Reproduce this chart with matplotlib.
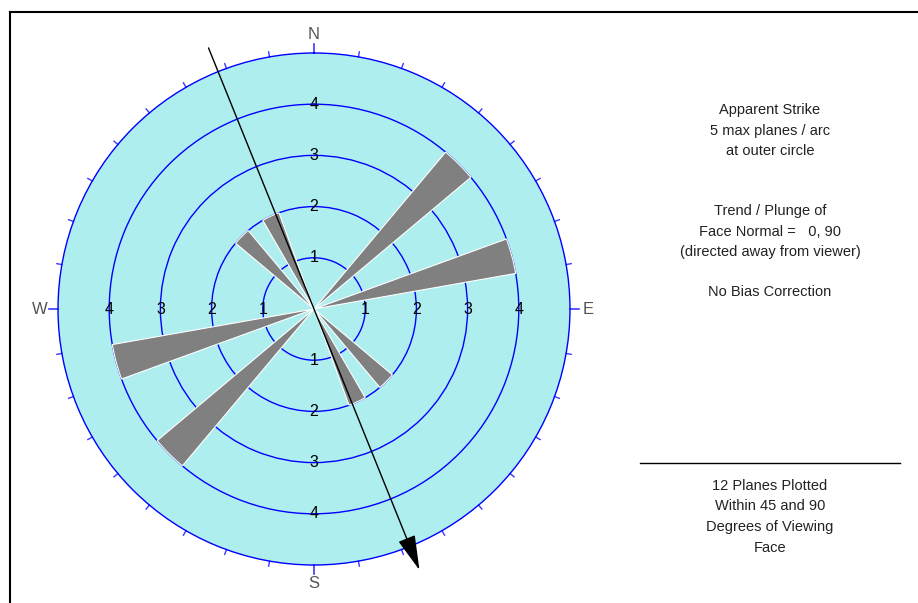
import numpy as np
import matplotlib
matplotlib.use("Agg")
import matplotlib.pyplot as plt
from matplotlib.lines import Line2D

plt.rcParams['font.family'] = ['Liberation Sans', 'DejaVu Sans']

# ---- data ----
bin_start_deg = [40, 70, 130, 150, 220, 250, 310, 330]   # apparent strike bins (10 deg wide)
bin_counts = [4, 4, 2, 2, 4, 4, 2, 2]                      # planes per bin (bidirectional)
bin_width_deg = 10
ring_values = [1, 2, 3, 4]
max_planes = 5
cardinal_deg = [0, 90, 180, 270]
cardinal_labels = ['N', 'E', 'S', 'W']
tick_step_deg = 10
arrow_trend_deg = 158
arrow_length = 5.5

info_lines_top = ["Apparent Strike", "5 max planes / arc", "at outer circle"]
info_lines_mid = ["Trend / Plunge of", "Face Normal =   0, 90", "(directed away from viewer)"]
info_line_bias = "No Bias Correction"
info_lines_bottom = ["12 Planes Plotted", "Within 45 and 90", "Degrees of Viewing", "Face"]

W, H = 918, 603
fig = plt.figure(figsize=(W / 100, H / 100), dpi=100)
fig.patch.set_facecolor('white')

cx, cy, R = 314, 309, 256
ax = fig.add_axes([(cx - R) / W, (H - cy - R) / H, 2 * R / W, 2 * R / H], projection='polar')
ax.set_theta_zero_location('N')
ax.set_theta_direction(-1)
ax.set_ylim(0, max_planes)
ax.set_facecolor('#AFEEEE')
ax.spines['polar'].set_color('#0000FF')
ax.spines['polar'].set_linewidth(1.0)
ax.set_axisbelow(True)

# rings
ax.set_yticks(ring_values)
ax.set_yticklabels([])
ax.yaxis.grid(True, color='#0000FF', linewidth=1.0)
ax.xaxis.grid(False)

# cardinal labels
ax.set_xticks(np.radians(cardinal_deg))
ax.set_xticklabels(cardinal_labels)
ax.tick_params(axis='x', which='major', length=0, labelcolor='#555555', labelsize=12, pad=6)

# outer tick marks every 10 degrees (longer at cardinal points)
for d in range(0, 360, tick_step_deg):
    L = 0.17 if d in cardinal_deg else 0.1
    ax.plot([np.radians(d)] * 2, [max_planes, max_planes + L], color='#3a3aFF',
            lw=1.2 if d in cardinal_deg else 1.0, clip_on=False, zorder=2)

# petals
theta = np.radians(np.array(bin_start_deg) + bin_width_deg / 2)
ax.bar(theta, bin_counts, width=np.radians(bin_width_deg), color='#808080',
       edgecolor='white', linewidth=0.8, zorder=3)

# ring labels
for r in ring_values:
    for t in cardinal_deg:
        ax.text(np.radians(t), r, str(r), ha='center', va='center',
                fontsize=11.5, color='black', zorder=4)

# arrow
ax.annotate('', xy=(np.radians(arrow_trend_deg), arrow_length),
            xytext=(np.radians(arrow_trend_deg + 180), arrow_length),
            arrowprops=dict(arrowstyle='-|>,head_length=1.1,head_width=0.28',
                            color='black', lw=1.0, mutation_scale=20,
                            shrinkA=0, shrinkB=0),
            annotation_clip=False, zorder=5)

# frame
fig.add_artist(Line2D([10 / W, 1.0], [1 - 12 / H, 1 - 12 / H], color='black', lw=1.5,
                      transform=fig.transFigure))
fig.add_artist(Line2D([10 / W, 10 / W], [0, 1 - 12 / H], color='black', lw=1.5,
                      transform=fig.transFigure))

# info text
tx = 770 / W
tcol = '#222222'
fs = 10.5
def put(lines, y0):
    for i, s in enumerate(lines):
        fig.text(tx, 1 - (y0 + 20.5 * i) / H, s, ha='center', va='center',
                 fontsize=fs, color=tcol)

put(info_lines_top, 110)
put(info_lines_mid, 211)
put([info_line_bias], 292)
fig.add_artist(Line2D([640 / W, 900 / W], [1 - 463 / H, 1 - 463 / H], color='black', lw=1.0,
                      transform=fig.transFigure))
put(info_lines_bottom, 486)

fig.savefig('out.png', dpi=100)
